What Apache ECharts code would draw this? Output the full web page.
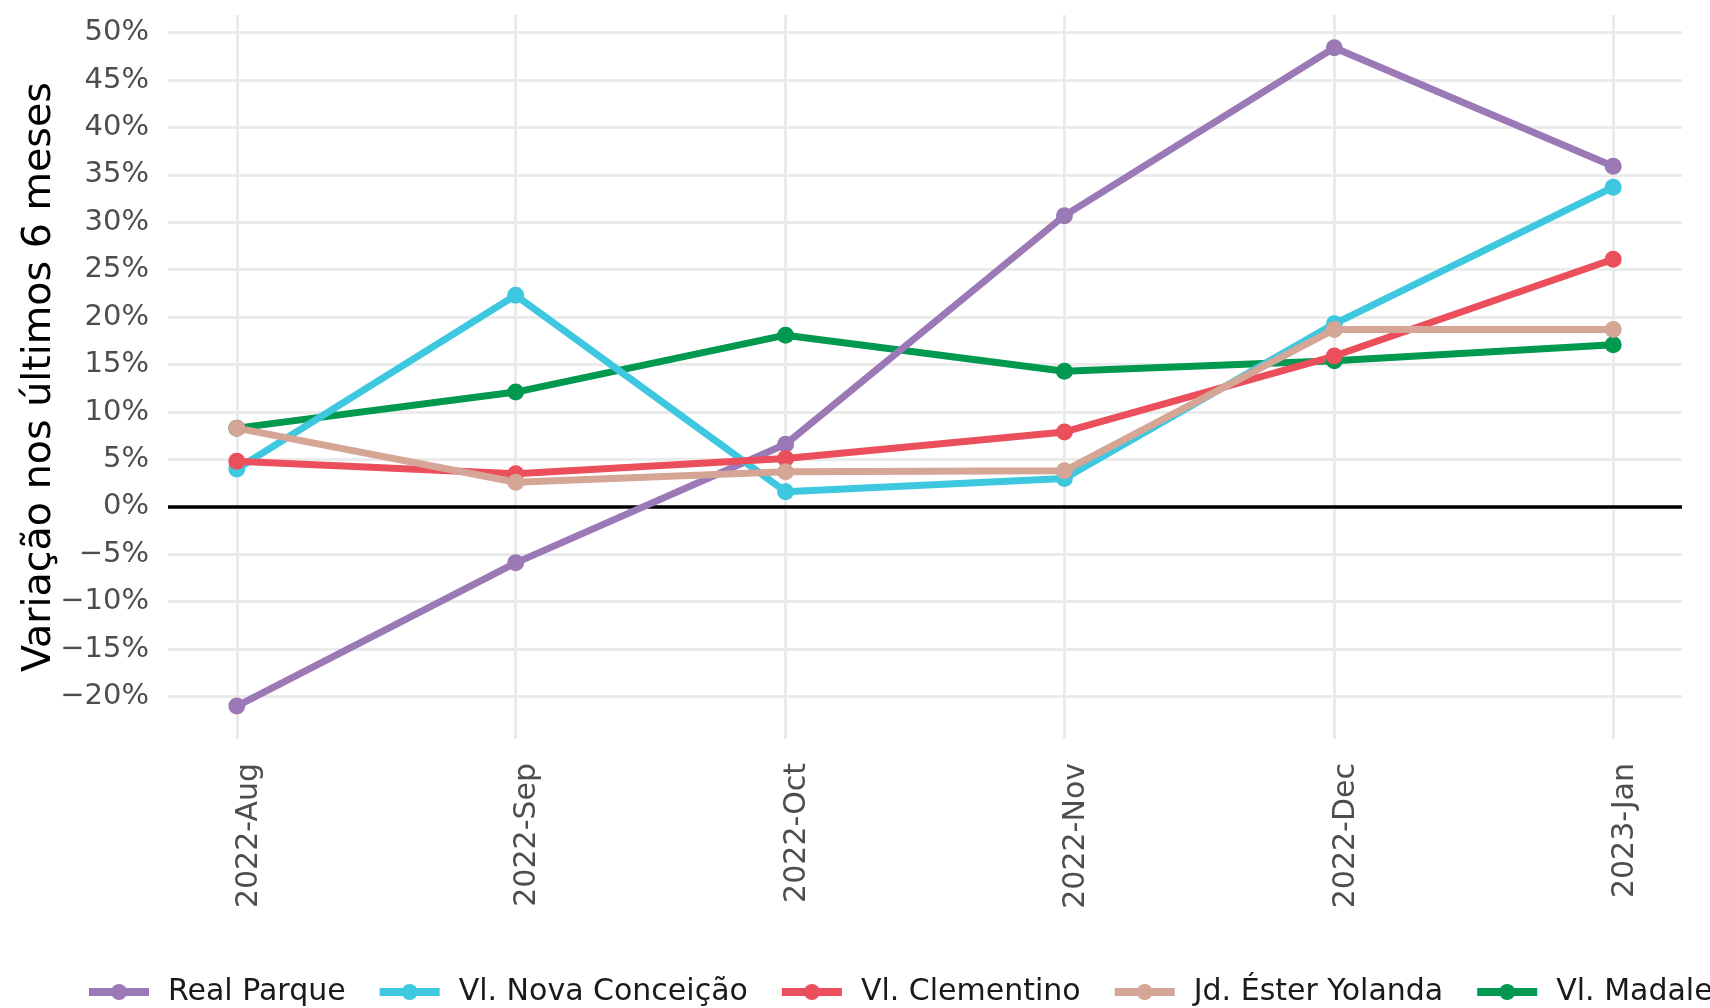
<!DOCTYPE html>
<html>
<head>
<meta charset="utf-8">
<script src="https://cdn.jsdelivr.net/npm/echarts@6/dist/echarts.min.js"></script>
<style>
html,body{margin:0;padding:0;background:#ffffff;}
#chart{width:1710px;height:1008px;}
</style>
</head>
<body>
<div id="chart"></div>
<script>
// ---- data (percent change over the last 6 months) ----
const months = ['2022-08-01', '2022-09-01', '2022-10-01', '2022-11-01', '2022-12-01', '2023-01-01'];
const monthAbbr = ['Jan', 'Feb', 'Mar', 'Apr', 'May', 'Jun', 'Jul', 'Aug', 'Sep', 'Oct', 'Nov', 'Dec'];

const seriesNames = ['Real Parque', 'Vl. Nova Conceição', 'Vl. Clementino', 'Jd. Éster Yolanda', 'Vl. Madalena'];
const seriesColors = ['#9B79B7', '#3DC8DF', '#EA4F5B', '#D5A596', '#00994F'];

const realParque      = [-21.0, -5.9, 6.6, 30.7, 48.4, 35.9];
const vlNovaConceicao = [4.0, 22.3, 1.6, 3.0, 19.3, 33.7];
const vlClementino    = [4.8, 3.5, 5.1, 7.9, 15.9, 26.1];
const jdEsterYolanda  = [8.3, 2.6, 3.7, 3.8, 18.7, 18.7];
const vlMadalena      = [8.3, 12.1, 18.1, 14.3, 15.4, 17.1];

const seriesValues = [realParque, vlNovaConceicao, vlClementino, jdEsterYolanda, vlMadalena];

// axis limits (ggplot-style 5% expansion around the data)
const xMin = '2022-07-24 08:24';
const xMax = '2023-01-08 15:36';
const yMin = -24.47;
const yMax = 51.85;

const FONT = 'DejaVu Sans';

// drawing order: green first so the others sit on top of it
const drawOrder = [4, 0, 1, 2, 3];

const series = drawOrder.map(function (i, k) {
  const s = {
    name: seriesNames[i],
    type: 'line',
    data: months.map(function (m, j) { return [m, seriesValues[i][j]]; }),
    symbol: 'circle',
    symbolSize: 17,
    showSymbol: true,
    lineStyle: { width: 7, color: seriesColors[i] },
    itemStyle: { color: seriesColors[i] },
    emphasis: { disabled: true },
    z: 3
  };
  if (k === 0) {
    s.markLine = {
      silent: true,
      symbol: 'none',
      z: 1,
      label: { show: false },
      lineStyle: { color: '#000000', width: 3.5, type: 'solid' },
      data: [{ yAxis: 0 }]
    };
  }
  return s;
});

const chart = echarts.init(document.getElementById('chart'), null, { renderer: 'canvas' });
chart.setOption({
  animation: false,
  backgroundColor: '#ffffff',
  grid: { left: 168, right: 28, top: 15, bottom: 269, containLabel: false },
  xAxis: {
    type: 'time',
    min: xMin,
    max: xMax,
    splitNumber: 6,
    minInterval: 28 * 24 * 3600 * 1000,
    axisLine: { show: false },
    axisTick: { show: false },
    splitLine: { show: true, showMinLine: false, showMaxLine: false, lineStyle: { color: '#EBEBEB', width: 3 } },
    minorSplitLine: { show: false },
    axisLabel: {
      rotate: 90,
      margin: 24,
      showMinLabel: false,
      showMaxLabel: false,
      hideOverlap: false,
      padding: [24, 0, 0, 0],
      fontFamily: FONT,
      fontSize: 30,
      color: '#4D4D4D',
      formatter: function (v) {
        const d = new Date(v);
        return d.getFullYear() + '-' + monthAbbr[d.getMonth()];
      }
    }
  },
  yAxis: {
    type: 'value',
    min: yMin,
    max: yMax,
    splitNumber: 15,
    minInterval: 5,
    maxInterval: 5,
    name: 'Variação nos últimos 6 meses',
    nameLocation: 'middle',
    nameRotate: 90,
    nameGap: 108,
    nameMoveOverlap: false,
    nameTextStyle: { fontFamily: FONT, fontSize: 39.6, color: '#000000' },
    axisLine: { show: false },
    axisTick: { show: false },
    splitLine: { show: true, showMinLine: false, showMaxLine: false, lineStyle: { color: '#EBEBEB', width: 3 } },
    axisLabel: {
      margin: 19,
      showMinLabel: false,
      showMaxLabel: false,
      fontFamily: FONT,
      fontSize: 29,
      color: '#4D4D4D',
      formatter: function (v) {
        const r = Math.round(v);
        return (r < 0 ? '\u2212' + Math.abs(r) : String(r)) + '%';
      }
    }
  },
  legend: {
    data: seriesNames,
    orient: 'horizontal',
    left: 80,
    top: 972,
    width: 4000,
    itemWidth: 60,
    itemHeight: 20,
    itemGap: 30,
    lineStyle: { width: 8 },
    textStyle: { fontFamily: FONT, fontSize: 30, color: '#1A1A1A', padding: [0, 0, 0, 14] },
    selectedMode: false
  },
  series: series
});
</script>
</body>
</html>
